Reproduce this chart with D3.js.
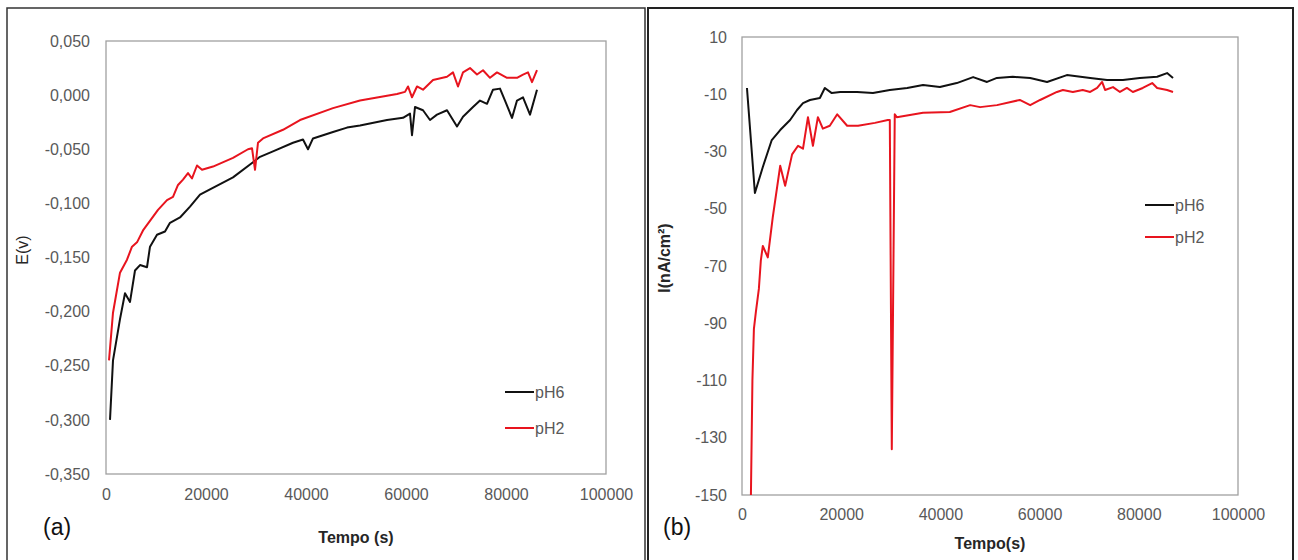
<!DOCTYPE html>
<html>
<head>
<meta charset="utf-8">
<script src="https://cdn.jsdelivr.net/npm/d3@7"></script>
<style>
  html, body { margin: 0; padding: 0; background: #fff; }
  svg { display: block; }
  text { font-family: "Liberation Sans", Arial, sans-serif; }
</style>
</head>
<body>
<svg id="fig" width="1298" height="560"></svg>
<script>
// ---- Panel (a): open-circuit potential E(V) vs time (s) ----
const seriesNames = ["pH6", "pH2"];
const seriesColors = ["#111111", "#e8141e"];

const potentialPH6 = [
  [800,-0.300],[1400,-0.245],[2800,-0.207],[3800,-0.183],[4800,-0.191],[5800,-0.162],
  [6800,-0.157],[8200,-0.159],[8800,-0.140],[10200,-0.129],[11800,-0.126],[12800,-0.118],
  [14800,-0.113],[16800,-0.103],[18800,-0.092],[20800,-0.087],[25400,-0.076],[29400,-0.062],
  [30800,-0.057],[33400,-0.052],[37400,-0.044],[39400,-0.041],[40400,-0.050],[41400,-0.040],
  [45400,-0.034],[48200,-0.030],[50800,-0.028],[56200,-0.023],[59400,-0.021],[60800,-0.017],
  [61200,-0.037],[61800,-0.011],[63400,-0.014],[64800,-0.023],[66200,-0.018],[68200,-0.014],
  [70200,-0.029],[71400,-0.020],[73400,-0.011],[74800,-0.005],[76200,-0.008],[77400,0.005],
  [78800,0.006],[79800,-0.005],[81200,-0.021],[82200,-0.005],[83400,-0.002],[84800,-0.018],
  [86200,0.005]
];
const potentialPH2 = [
  [600,-0.245],[1400,-0.201],[2800,-0.164],[4200,-0.152],[5200,-0.140],[6200,-0.136],
  [7400,-0.125],[10400,-0.106],[12200,-0.097],[13400,-0.094],[14400,-0.083],[15400,-0.078],
  [16400,-0.072],[17200,-0.077],[18200,-0.065],[19200,-0.069],[21400,-0.066],[25400,-0.058],
  [28400,-0.050],[29200,-0.049],[29800,-0.069],[30400,-0.044],[31400,-0.040],[35400,-0.032],
  [38800,-0.023],[45400,-0.012],[50800,-0.005],[58200,0.001],[59800,0.003],[60400,0.008],
  [61200,-0.002],[62200,0.008],[63400,0.005],[65400,0.014],[68200,0.017],[69400,0.021],
  [70400,0.008],[71400,0.021],[72800,0.025],[74200,0.019],[75400,0.023],[76800,0.016],
  [78200,0.021],[80200,0.016],[82200,0.016],[83400,0.019],[84400,0.021],[85200,0.012],
  [86200,0.023]
];
const potentialTicksY = [0.05, 0.0, -0.05, -0.1, -0.15, -0.2, -0.25, -0.3, -0.35];
const timeTicks = [0, 20000, 40000, 60000, 80000, 100000];

// ---- Panel (b): current density I (nA/cm²) vs time (s) ----
const currentPH6 = [
  [1000,-7.8],[2600,-44.5],[4200,-35.4],[6000,-26.0],[7700,-22.5],[9700,-19.0],
  [11100,-15.5],[12300,-13.1],[13700,-12.0],[15700,-11.3],[16700,-7.8],[18100,-9.6],
  [19800,-9.2],[23200,-9.2],[26400,-9.6],[29800,-8.5],[33300,-7.8],[36500,-6.8],
  [39900,-7.5],[43300,-6.1],[46600,-4.0],[49400,-5.7],[51400,-4.3],[54600,-3.9],
  [58100,-4.3],[61500,-5.7],[65500,-3.3],[70200,-4.3],[73600,-5.0],[76800,-5.0],
  [80200,-4.3],[83700,-3.9],[85700,-2.6],[86900,-4.3]
];
const currentPH2 = [
  [1800,-150],[2100,-110],[2400,-92],[2800,-86],[3400,-78],[3800,-68],[4200,-63],
  [5200,-67],[6200,-53],[7700,-35],[8700,-42],[10100,-31],[11300,-28],[12300,-29],
  [13300,-18],[14300,-28],[15300,-18],[16300,-22],[17700,-21],[19200,-17],[21200,-21],
  [23400,-21],[26800,-20],[29400,-19],[29800,-19],[30200,-134],[30800,-17],[31200,-18],
  [36500,-16.5],[41900,-16.2],[46000,-13.8],[48000,-14.5],[51400,-13.8],[56000,-12],
  [58100,-13.8],[60100,-12],[63500,-9.2],[64700,-8.5],[66700,-9.2],[68700,-8.5],
  [70200,-9.2],[71600,-7.8],[72600,-5.7],[73200,-8.5],[74800,-7.5],[76200,-9.2],
  [77600,-7.8],[78800,-9.2],[80800,-7.8],[82700,-6.1],[83700,-7.8],[85700,-8.5],
  [86900,-9.2]
];
const currentTicksY = [10, -10, -30, -50, -70, -90, -110, -130, -150];

const svg = d3.select("#fig");
const axisGray = "#595959";
const frameGray = "#a0a0a0";
const labelSize = "16px";

// Outer panel frames
svg.append("rect").attr("x", 7).attr("y", 8).attr("width", 638).attr("height", 560)
  .attr("fill", "none").attr("stroke", "#333").attr("stroke-width", 1.5);
svg.append("rect").attr("x", 648).attr("y", 8).attr("width", 645).attr("height", 560)
  .attr("fill", "none").attr("stroke", "#222").attr("stroke-width", 2);

function drawPanel(cfg) {
  const x = d3.scaleLinear().domain([0, 100000]).range([cfg.left, cfg.right]);
  const y = d3.scaleLinear().domain(cfg.yDomain).range([cfg.bottom, cfg.top]);
  const g = svg.append("g");

  g.append("defs").append("clipPath").attr("id", cfg.id + "-clip")
    .append("rect").attr("x", cfg.left).attr("y", cfg.top)
    .attr("width", cfg.right - cfg.left).attr("height", cfg.bottom - cfg.top);

  // Plot area border
  g.append("rect").attr("x", cfg.left).attr("y", cfg.top)
    .attr("width", cfg.right - cfg.left).attr("height", cfg.bottom - cfg.top)
    .attr("fill", "none").attr("stroke", frameGray).attr("stroke-width", 1.3);

  // Y axis tick labels
  const yAxis = d3.axisLeft(y).tickValues(cfg.yTicks).tickSize(0).tickPadding(0)
    .tickFormat(cfg.yFormat);
  const ya = g.append("g").attr("transform", `translate(${cfg.yLabelX},0)`).call(yAxis);
  ya.select(".domain").remove();
  ya.selectAll("text").attr("fill", axisGray).style("font-size", labelSize)
    .style("font-family", "'Liberation Sans', Arial, sans-serif");

  // X axis tick labels
  const xAxis = d3.axisBottom(x).tickValues(timeTicks).tickSize(0).tickPadding(0)
    .tickFormat(d3.format("d"));
  const xa = g.append("g").attr("transform", `translate(0,${cfg.xLabelY})`).call(xAxis);
  xa.select(".domain").remove();
  xa.selectAll("text").attr("fill", axisGray).style("font-size", labelSize)
    .style("font-family", "'Liberation Sans', Arial, sans-serif");

  // Series lines
  const line = d3.line().x(d => x(d[0])).y(d => y(d[1]));
  const lines = g.append("g").attr("clip-path", `url(#${cfg.id}-clip)`);
  cfg.series.forEach((s, i) => {
    lines.append("path").datum(s).attr("d", line)
      .attr("fill", "none").attr("stroke", seriesColors[i])
      .attr("stroke-width", 2).attr("stroke-linejoin", "round");
  });

  // Legend
  seriesNames.forEach((name, i) => {
    const ly = cfg.legendY + i * cfg.legendGap;
    g.append("line").attr("x1", cfg.legendX).attr("x2", cfg.legendX + 29)
      .attr("y1", ly).attr("y2", ly).attr("stroke", seriesColors[i]).attr("stroke-width", 2);
    g.append("text").attr("x", cfg.legendX + 30).attr("y", ly).attr("dy", "0.35em")
      .attr("fill", axisGray).style("font-size", labelSize).text(name);
  });

  // Axis titles
  g.append("text").attr("x", (cfg.left + cfg.right) / 2).attr("y", cfg.xTitleY)
    .attr("text-anchor", "middle").attr("dy", "0.35em")
    .attr("fill", "#262626").style("font-size", labelSize).style("font-weight", "bold")
    .text(cfg.xTitle);
  g.append("text")
    .attr("transform", `translate(${cfg.yTitleX},${cfg.yTitleY}) rotate(-90)`)
    .attr("text-anchor", "middle").attr("dy", "0.35em")
    .attr("fill", "#262626").style("font-size", labelSize)
    .style("font-weight", cfg.yTitleBold ? "bold" : "normal")
    .text(cfg.yTitle);

  // Panel letter
  g.append("text").attr("x", cfg.letterX).attr("y", 527).attr("dy", "0.35em")
    .attr("fill", "#111").style("font-size", "23px")
    .text(cfg.letter);
}

const commaFmt = fmt => v => fmt(v).replace(".", ",").replace("−", "-");

drawPanel({
  id: "pa", left: 106, right: 606, top: 41, bottom: 474,
  yDomain: [-0.35, 0.05], yTicks: potentialTicksY,
  yFormat: commaFmt(d3.format(".3f")),
  yLabelX: 90, xLabelY: 489,
  series: [potentialPH6, potentialPH2],
  legendX: 505, legendY: 392, legendGap: 36,
  xTitle: "Tempo (s)", xTitleY: 537,
  yTitle: "E(v)", yTitleX: 22, yTitleY: 250, yTitleBold: false,
  letter: "(a)", letterX: 43
});

drawPanel({
  id: "pb", left: 742, right: 1238, top: 37, bottom: 495,
  yDomain: [-150, 10], yTicks: currentTicksY,
  yFormat: v => d3.format("d")(v).replace("−", "-"),
  yLabelX: 727, xLabelY: 509,
  series: [currentPH6, currentPH2],
  legendX: 1145, legendY: 205, legendGap: 32,
  xTitle: "Tempo(s)", xTitleY: 543,
  yTitle: "I(nA/cm²)", yTitleX: 664, yTitleY: 258, yTitleBold: true,
  letter: "(b)", letterX: 663
});
</script>
</body>
</html>
